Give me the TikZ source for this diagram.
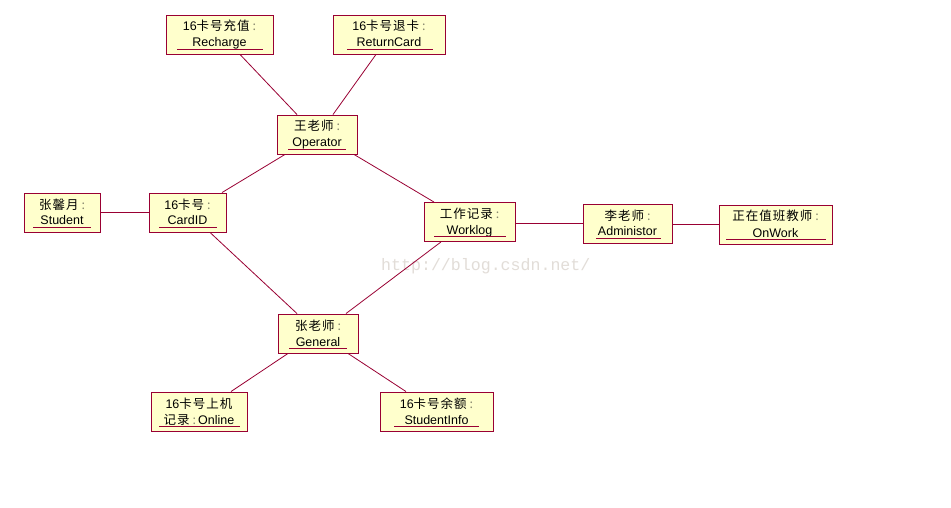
\documentclass[tikz,border=0pt]{standalone}
\usepackage{fontspec}
\setmainfont{Liberation Sans}
\newfontfamily\cjk[LetterSpace=8]{Noto Sans CJK SC}
\newfontfamily\wmfont{Liberation Mono}
\definecolor{umlborder}{HTML}{990033}
\definecolor{umlfill}{HTML}{FFFFCC}
\definecolor{colgray}{HTML}{8A8A70}
\definecolor{wmgray}{HTML}{E2DDD8}
\tikzset{
  objbox/.style={draw=umlborder, fill=umlfill, line width=0.9pt, minimum height=39pt, inner sep=0pt},
  txt/.style={inner sep=0pt, anchor=base, font=\fontsize{12.5}{14}\selectfont},
  ul/.style={draw=umlborder, line width=0.9pt},
  link/.style={draw=umlborder, line width=0.8pt},
}
\newcommand\cc[1]{{\cjk #1}}
\newcommand\umlcolon{\hspace{3pt}\textcolor{colgray}{\cc{:}}}
\newcommand\umlobj[8]{%
  \node[objbox, minimum width=#4pt] (#1) at (#2,#3) {};
  \node[txt] at ([yshift=3.5pt]#1.center) {#5};
  \node[txt] at ([yshift=-12.5pt]#1.center) {#6};
  \draw[ul] ({#7},{#3+14.5}) -- ({#8},{#3+14.5});
}
\begin{document}
\begin{tikzpicture}[x=1pt,y=-1pt]
\useasboundingbox[fill=white] (0,0) rectangle (951,508);
\node[anchor=base west, inner sep=0pt, text=wmgray, font=\wmfont\fontsize{16.6}{18}\selectfont] (wm) at (381,270) {http://blog.csdn.net/};

\umlobj{Recharge}{219.5}{34.5}{107}{16\cc{卡号充值}\umlcolon}{Recharge}{177}{263}
\umlobj{ReturnCard}{389}{34.5}{112}{16\cc{卡号退卡}\umlcolon}{ReturnCard}{347}{433}
\umlobj{Operator}{317}{134.5}{80}{\cc{王老师}\umlcolon}{Operator}{288}{346}
\umlobj{Student}{62}{212.5}{76}{\cc{张馨月}\umlcolon}{Student}{33}{91}
\umlobj{CardID}{187.5}{212.5}{77}{16\cc{卡号}\umlcolon}{CardID}{159}{217}
\umlobj{Worklog}{469.5}{222}{91}{\cc{工作记录}\umlcolon}{Worklog}{434}{506}
\umlobj{Administor}{627.5}{223.5}{89}{\cc{李老师}\umlcolon}{Administor}{596}{661}
\umlobj{OnWork}{775.5}{224.5}{113}{\cc{正在值班教师}\umlcolon}{OnWork}{726}{826}
\umlobj{General}{318}{333.5}{80}{\cc{张老师}\umlcolon}{General}{289}{347}
\umlobj{Online}{199}{411.5}{96}{16\cc{卡号上机}}{\cc{记录}\umlcolon\hspace{2pt}Online}{159}{240}
\umlobj{StudentInfo}{436.5}{411.5}{113}{16\cc{卡号余额}\umlcolon}{StudentInfo}{394}{479}

\draw[link] ([xshift=20.5pt]Recharge.south) -- ([xshift=-20pt]Operator.north);
\draw[link] ([xshift=-13pt]ReturnCard.south) -- ([xshift=16pt]Operator.north);
\draw[link] ([xshift=-32pt]Operator.south) -- ([xshift=34.5pt]CardID.north);
\draw[link] ([xshift=37pt]Operator.south) -- ([xshift=-35.5pt]Worklog.north);
\draw[link] (Student.east) -- (CardID.west);
\draw[link] ([xshift=22.5pt]CardID.south) -- ([xshift=-21pt]General.north);
\draw[link] ([xshift=-28.5pt]Worklog.south) -- ([xshift=28pt]General.north);
\draw[link] (Worklog.east |- Administor.west) -- (Administor.west);
\draw[link] (Administor.east |- OnWork.west) -- (OnWork.west);
\draw[link] ([xshift=-30pt]General.south) -- ([xshift=32pt]Online.north);
\draw[link] ([xshift=30pt]General.south) -- ([xshift=-30.5pt]StudentInfo.north);
\end{tikzpicture}
\end{document}
